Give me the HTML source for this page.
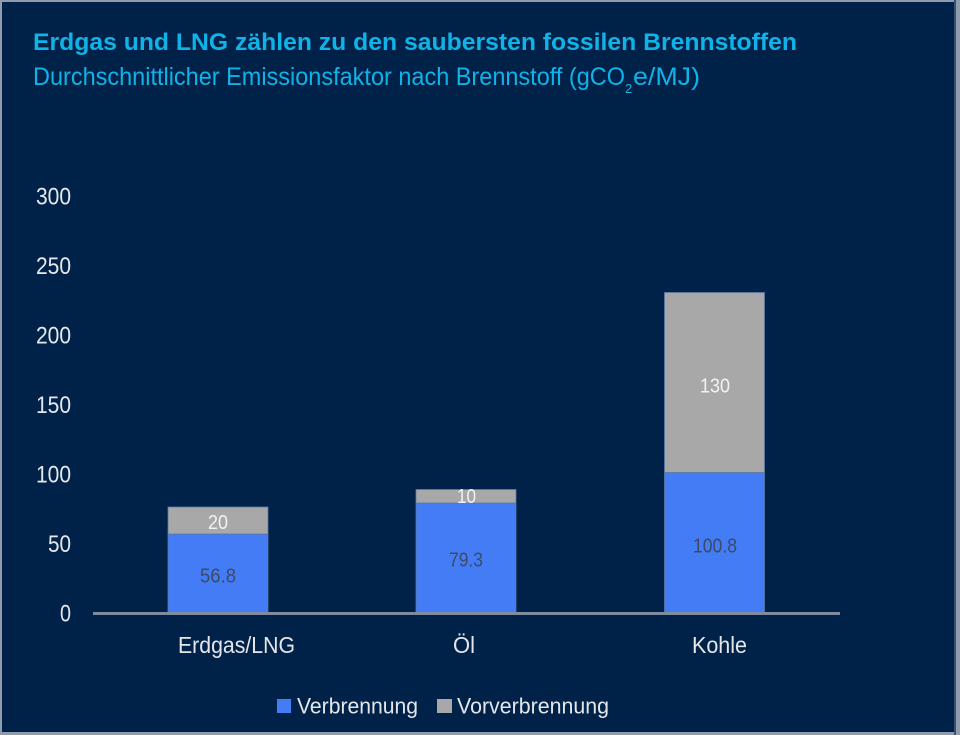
<!DOCTYPE html>
<html>
<head>
<meta charset="utf-8">
<style>
html,body{margin:0;padding:0;background:#8e9cae;}
svg{display:block;}
text{font-family:"Liberation Sans",Arial,sans-serif;}
</style>
</head>
<body>
<svg width="960" height="735" viewBox="0 0 960 735" xmlns="http://www.w3.org/2000/svg">
  <rect x="0" y="0" width="960" height="735" fill="#8e9cae"/>
  <rect x="2" y="2" width="952" height="730" fill="#012248"/>
  <rect x="954" y="0" width="2" height="735" fill="#3a5070"/>

  <!-- Title -->
  <text x="33" y="50" font-size="24" font-weight="bold" fill="#0fb3e8" textLength="764" lengthAdjust="spacingAndGlyphs">Erdgas und LNG zählen zu den saubersten fossilen Brennstoffen</text>
  <text x="33" y="85" font-size="25" fill="#0fb3e8" textLength="592" lengthAdjust="spacingAndGlyphs">Durchschnittlicher Emissionsfaktor nach Brennstoff (gCO</text>
  <text x="625" y="93" font-size="13" fill="#0fb3e8">2</text>
  <text x="633" y="85" font-size="25" fill="#0fb3e8" textLength="67" lengthAdjust="spacingAndGlyphs">e/MJ)</text>

  <!-- Y axis labels -->
  <g font-size="24" fill="#e6e8ec" text-anchor="end">
    <text x="71" y="204.5" textLength="35" lengthAdjust="spacingAndGlyphs">300</text>
    <text x="71" y="274" textLength="35" lengthAdjust="spacingAndGlyphs">250</text>
    <text x="71" y="343.5" textLength="35" lengthAdjust="spacingAndGlyphs">200</text>
    <text x="71" y="413" textLength="35" lengthAdjust="spacingAndGlyphs">150</text>
    <text x="71" y="482.5" textLength="35" lengthAdjust="spacingAndGlyphs">100</text>
    <text x="71" y="552" textLength="23" lengthAdjust="spacingAndGlyphs">50</text>
    <text x="71" y="621.5" textLength="11" lengthAdjust="spacingAndGlyphs">0</text>
  </g>

  <!-- Bars -->
  <g stroke="#5a7aa6" stroke-width="0.8">
    <rect x="168" y="534" width="100" height="79.5" fill="#437cf4"/>
    <rect x="168" y="507" width="100" height="27" fill="#a8a8a8"/>
    <rect x="416" y="503" width="100" height="110.5" fill="#437cf4"/>
    <rect x="416" y="489.5" width="100" height="13.5" fill="#a8a8a8"/>
    <rect x="664.5" y="472.5" width="100" height="141" fill="#437cf4"/>
    <rect x="664.5" y="292.5" width="100" height="180" fill="#a8a8a8"/>
  </g>

  <!-- Axis line -->
  <rect x="93" y="612" width="747" height="3" fill="#7f8c9f"/>

  <!-- Data labels -->
  <g font-size="20" text-anchor="middle">
    <text x="218" y="582.5" fill="#3c4a68" textLength="36" lengthAdjust="spacingAndGlyphs">56.8</text>
    <text x="218" y="529" fill="#f2f2f2" textLength="20" lengthAdjust="spacingAndGlyphs">20</text>
    <text x="466" y="566.5" fill="#3c4a68" textLength="34" lengthAdjust="spacingAndGlyphs">79.3</text>
    <text x="466.5" y="503" fill="#f2f2f2" textLength="19" lengthAdjust="spacingAndGlyphs">10</text>
    <text x="715" y="392.5" fill="#f2f2f2" textLength="30" lengthAdjust="spacingAndGlyphs">130</text>
    <text x="715" y="552.5" fill="#3c4a68" textLength="44" lengthAdjust="spacingAndGlyphs">100.8</text>
  </g>

  <!-- Category labels -->
  <g font-size="23" fill="#e4e6ea">
    <text x="178" y="653" textLength="117" lengthAdjust="spacingAndGlyphs">Erdgas/LNG</text>
    <text x="453" y="653" textLength="22" lengthAdjust="spacingAndGlyphs">Öl</text>
    <text x="692" y="653" textLength="55" lengthAdjust="spacingAndGlyphs">Kohle</text>
  </g>

  <!-- Legend -->
  <rect x="277" y="699" width="14" height="14" fill="#437cf4"/>
  <text x="297" y="713.5" font-size="22" fill="#e4e6ea" textLength="121" lengthAdjust="spacingAndGlyphs">Verbrennung</text>
  <rect x="437" y="699" width="15" height="14" fill="#a8a8a8"/>
  <text x="457" y="713.5" font-size="22" fill="#e4e6ea" textLength="152" lengthAdjust="spacingAndGlyphs">Vorverbrennung</text>
</svg>
</body>
</html>
